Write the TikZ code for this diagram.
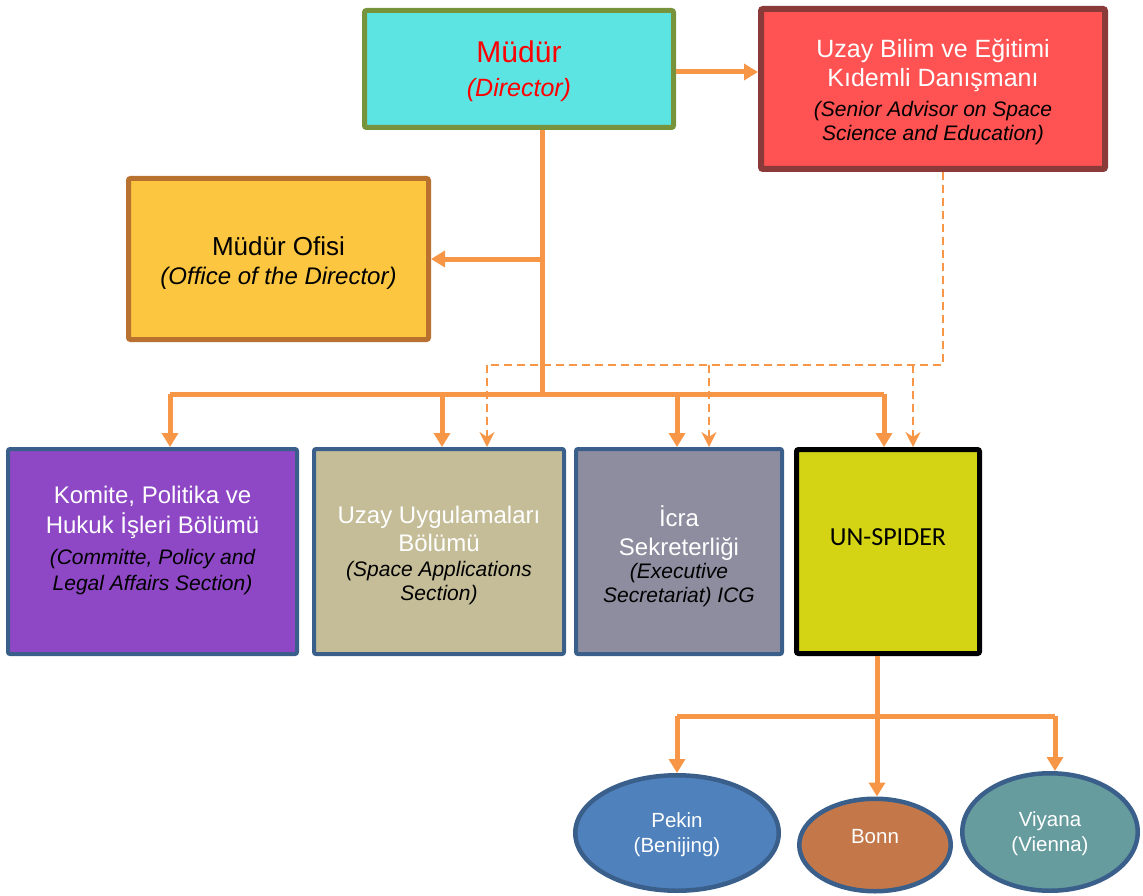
\documentclass[tikz,border=0pt]{standalone}
\usepackage{fontspec}
\setmainfont{Liberation Sans}
\newfontfamily\calibrifont{Carlito}
\usetikzlibrary{arrows.meta,shapes.geometric}
\definecolor{arrorange}{HTML}{F79646}
\definecolor{dirfill}{HTML}{5CE4E2}
\definecolor{dirborder}{HTML}{77933C}
\definecolor{advfill}{HTML}{FF5252}
\definecolor{advborder}{HTML}{8B3A3A}
\definecolor{offfill}{HTML}{FCC640}
\definecolor{offborder}{HTML}{B8712F}
\definecolor{purplefill}{HTML}{8E47C5}
\definecolor{tanfill}{HTML}{C4BD98}
\definecolor{grayfill}{HTML}{8E8C9F}
\definecolor{yellowfill}{HTML}{D4D414}
\definecolor{blueborder}{HTML}{3A5F8B}
\definecolor{pekinfill}{HTML}{4F81BD}
\definecolor{bonnfill}{HTML}{C47849}
\definecolor{viyanafill}{HTML}{669C9E}
\tikzset{
  box/.style={draw, rounded corners=2pt, inner sep=0pt},
  secbox/.style={box, draw=blueborder, line width=4pt, minimum height=205pt},
  city/.style={ellipse, draw=blueborder, line width=4.5pt, inner sep=0pt},
  txt/.style={align=center, inner sep=0pt},
  big/.style={font=\fontsize{24}{29}\selectfont},
  citytxt/.style={txt, text=white, font=\fontsize{20.5}{25}\selectfont},
  conn/.style={draw=arrorange, line width=5pt},
  arr/.style={conn, -{Triangle[width=16pt,length=14pt]}},
  dconn/.style={draw=arrorange, line width=2.5pt, dash pattern=on 8pt off 5pt},
  darr/.style={dconn, -{Stealth[width=15pt,length=15pt,inset=5pt]}},
}
\newcommand{\itl}[1]{{\color{black}\fontsize{21}{24}\selectfont\itshape #1}}
\begin{document}
\begin{tikzpicture}[x=1pt,y=-1pt]
\useasboundingbox (0,0) rectangle (1143,896);

% top boxes
\node[box, fill=dirfill, draw=dirborder, line width=5pt, minimum width=309pt, minimum height=117pt] (dir) at (519,69) {};
\node[txt, text=red, font=\fontsize{25}{34}\selectfont] (dirt) at ([yshift=-2pt]dir.center)
  {{\fontsize{30}{34}\selectfont Müdür}\\{\itshape (Director)}};
\node[box, fill=advfill, draw=advborder, line width=6pt, minimum width=344pt, minimum height=160pt] (adv) at (933,89) {};
\node[txt, text=white, font=\fontsize{25}{29}\selectfont] (advt) at ([yshift=-3pt]adv.center)
  {Uzay Bilim ve Eğitimi\\Kıdemli Danışmanı\\[1pt]\itl{(Senior Advisor on Space}\\[-5pt]\itl{Science and Education)}};
\node[box, fill=offfill, draw=offborder, line width=5pt, minimum width=300pt, minimum height=161pt] (off) at (278.5,259) {};
\node[txt, font=\fontsize{26}{29}\selectfont] (offt) at ([yshift=-4pt]off.center)
  {Müdür Ofisi\\{\fontsize{24}{29}\selectfont\itshape (Office of the Director)}};

% section boxes
\node[secbox, fill=purplefill, minimum width=289pt] (kom) at (152.5,551.5) {};
\node[txt, big, text=white] (komt) at ([yshift=11pt]kom.center)
  {Komite, Politika ve\\[1pt]Hukuk İşleri Bölümü\\[2pt]\itl{(Committe, Policy and}\\[-3pt]\itl{Legal Affairs Section)}};
\node[secbox, fill=tanfill, minimum width=250pt] (uza) at (439,551.5) {};
\node[txt, big, text=white] (uzat) at ([yshift=-4pt]uza.center)
  {Uzay Uygulamaları\\[-1pt]Bölümü\\[-4pt]\itl{(Space Applications}\\[-5pt]\itl{Section)}};
\node[secbox, fill=grayfill, minimum width=206pt] (icr) at (679,551.5) {};
\node[txt, big, text=white] (icrt) at ([yshift=-5pt]icr.center)
  {İcra\\Sekreterliği\\[-6pt]\itl{(Executive}\\[-5pt]\itl{Secretariat) ICG}};
\node[box, fill=yellowfill, draw=black, line width=5pt, minimum width=183pt, minimum height=204pt] (uns) at (888,551.5) {};
\node[txt, font=\calibrifont\fontsize{26}{30}\selectfont] (unst) at ([yshift=14pt]uns.center) {UN-SPIDER};

% cities
\node[city, fill=pekinfill, minimum width=203.5pt, minimum height=115.5pt] (pek) at (677,833) {};
\node[citytxt] (pekt) at ([yshift=-2pt]pek.center) {Pekin\\(Benijing)};
\node[city, fill=bonnfill, minimum width=151.5pt, minimum height=92.5pt] (bon) at (875,845) {};
\node[citytxt] (bont) at ([yshift=8pt]bon.center) {Bonn};
\node[city, fill=viyanafill, minimum width=175.5pt, minimum height=117.5pt] (viy) at (1050,832) {};
\node[citytxt] (viyt) at ([yshift=-2pt]viy.center) {Viyana\\(Vienna)};

% connector coordinates
\coordinate (trunk) at (542,394);
\coordinate (joff) at (542,259);
\coordinate (b1) at (170,394);
\coordinate (b2) at (442,394);
\coordinate (b3) at (677,394);
\coordinate (b4) at (884,394);
\coordinate (d0) at (943,365);
\coordinate (d1) at (487,365);
\coordinate (d2) at (709,365);
\coordinate (d3) at (913,365);
\coordinate (s0) at (877,716);
\coordinate (s1) at (677,716);
\coordinate (s3) at (1055,716);

% solid connectors
\draw[arr] ([yshift=-3pt]dir.east) -- ([yshift=-3pt]dir.east -| adv.west);
\draw[conn] (dir.south -| trunk) -- (trunk);
\draw[arr] (joff) -- (off.east);
\draw[conn] (b1) -- (b4);
\draw[arr] (b1) -- (b1 |- kom.north);
\draw[arr] (b2) -- (b2 |- uza.north);
\draw[arr] (b3) -- (b3 |- icr.north);
\draw[arr] (b4) -- (b4 |- uns.north);

% dashed connectors
\draw[dconn] (adv.south -| d0) -- (d0) -- (d1);
\draw[darr] (d1) -- (d1 |- uza.north);
\draw[darr] (d2) -- (d2 |- icr.north);
\draw[darr] (d3) -- (d3 |- uns.north);

% UN-SPIDER branches
\draw[conn] (uns.south -| s0) -- (s0);
\draw[conn] (s1) -- (s3);
\draw[arr] (s1) -- (pek.north);
\draw[arr] (s0) -- (s0 |- bon.north);
\draw[arr] (s3) -- (s3 |- viy.north);
\end{tikzpicture}
\end{document}
